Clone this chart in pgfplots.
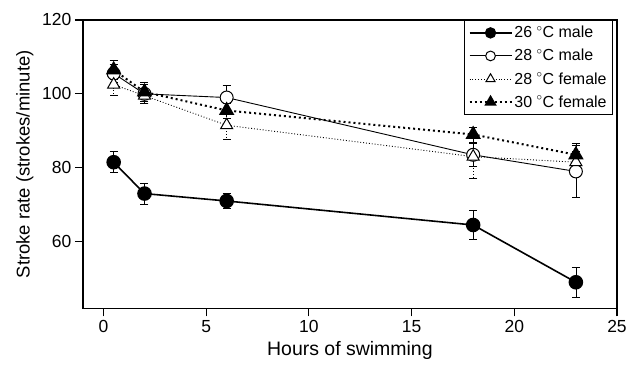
\documentclass[border=0pt]{standalone}
\usepackage{pgfplots}
\pgfplotsset{compat=1.18}
\usepackage{fontspec}
\setmainfont{Liberation Sans}
\begin{document}
\begin{tikzpicture}[x=1pt,y=1pt]
\begin{axis}[
  at={(0,0)}, anchor=south west,
  scale only axis, width=535pt, height=289pt,
  xmin=-1, xmax=25, ymin=41.9, ymax=120,
  xtick={0,5,10,15,20,25}, ytick={60,80,100,120},
  tick align=outside, major tick length=8pt,
  xtick pos=bottom, ytick pos=left,
  axis line style={line width=1.3pt},
  tick style={line width=1.2pt, black},
  every tick label/.append style={font=\fontsize{17.5}{20}\selectfont},
  /pgf/number format/assume math mode=true,
  xlabel={Hours of swimming}, ylabel={Stroke rate (strokes/minute)},
  xlabel style={font=\fontsize{19.5}{22}\selectfont, yshift=-2pt},
  ylabel style={font=\fontsize{18.5}{22}\selectfont, yshift=2pt},
  legend style={at={(1,1)}, anchor=north east, xshift=-4pt, draw=black, line width=0.8pt,
    font=\fontsize{16}{18}\selectfont, row sep=6pt, inner sep=4pt,
    nodes={inner xsep=2pt}},
  legend cell align=left,
  legend image code/.code={%
    \draw[mark repeat=2, mark phase=2, #1, every mark/.append style={scale=0.75}]
      plot coordinates {(0pt,0pt) (21pt,0pt) (42pt,0pt)};},
  error bars/error bar style={line width=0.7pt, black},
  error bars/error mark options={rotate=90, mark size=4pt, line width=0.7pt, black},
  clip=false,
]
\addplot[black, line width=1.6pt, mark=*, mark size=6.5pt, mark options={solid, fill=black},
  error bars/.cd, y dir=both, y explicit]
  coordinates {(0.5,81.5) +- (0,2.8) (2,73) +- (0,2.8) (6,71) +- (0,2) (18,64.5) +- (0,4) (23,49) +- (0,4)};
\addlegendentry{26 $^{\circ}$C male}
\addplot[black, line width=0.9pt, mark=*, mark size=6.5pt, mark options={solid, fill=white, line width=1pt},
  error bars/.cd, y dir=both, y explicit]
  coordinates {(0.5,105.5) +- (0,2.5) (2,100) +- (0,2.5) (6,99) +- (0,3.3) (18,83.5) +- (0,3) (23,79) +- (0,7)};
\addlegendentry{28 $^{\circ}$C male}
\addplot[black, line width=0.9pt, dotted, mark=triangle*, mark size=7pt, mark options={solid, fill=white, line width=1pt},
  error bars/.cd, y dir=both, y explicit]
  coordinates {(0.5,102.5) +- (0,3) (2,99.5) +- (0,2) (6,91.5) +- (0,3.8) (18,83) +- (0,6) (23,81.5) +- (0,3)};
\addlegendentry{28 $^{\circ}$C female}
\addplot[black, line width=2pt, dash pattern=on 2pt off 3pt, mark=triangle*, mark size=7pt, mark options={solid, fill=black},
  error bars/.cd, y dir=both, y explicit]
  coordinates {(0.5,106.5) +- (0,2.5) (2,100.5) +- (0,2.5) (6,95.5) +- (0,2) (18,89) +- (0,2) (23,83.5) +- (0,3)};
\addlegendentry{30 $^{\circ}$C female}
\end{axis}
\path[use as bounding box] (-83,-72) rectangle (547,309);
\end{tikzpicture}
\end{document}
